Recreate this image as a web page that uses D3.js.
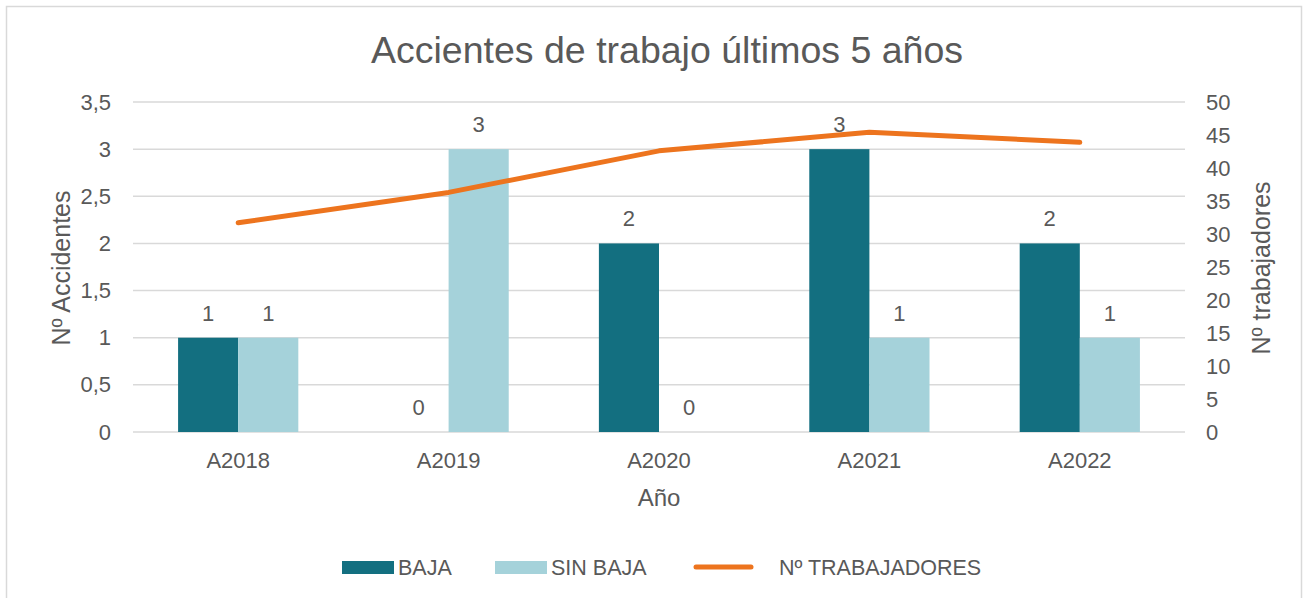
<!DOCTYPE html>
<html>
<head>
<meta charset="utf-8">
<script src="https://cdn.jsdelivr.net/npm/d3@7"></script>
<style>
  body { margin: 0; background: #fff; }
  svg text { font-family: "Liberation Sans", Arial, sans-serif; fill: #595959; }
</style>
</head>
<body>
<div id="chart"></div>
<script>
// chart values
const years = ["A2018", "A2019", "A2020", "A2021", "A2022"];
const baja = [1, 0, 2, 3, 2];
const sinBaja = [1, 3, 0, 1, 1];
const trabajadores = [31.7, 36.3, 42.6, 45.4, 43.9];
const leftTicks = [0, 0.5, 1, 1.5, 2, 2.5, 3, 3.5];
const rightTicks = [0, 5, 10, 15, 20, 25, 30, 35, 40, 45, 50];

const colors = { baja: "#136f80", sinBaja: "#a5d2da", line: "#ed741e", grid: "#d9d9d9" };

const width = 1305, height = 598;
const margin = { top: 102, right: 120, bottom: 166, left: 133 };

const svg = d3.select("#chart").append("svg")
    .attr("width", width)
    .attr("height", height);

// outer frame
svg.append("rect")
    .attr("x", 6.5).attr("y", 6.5)
    .attr("width", 1295).attr("height", 600)
    .attr("fill", "none")
    .attr("stroke", colors.grid)
    .attr("stroke-width", 1.5);

const x = d3.scaleBand()
    .domain(years)
    .range([margin.left, width - margin.right]);

const sub = d3.scaleBand()
    .domain(["baja", "sinBaja"])
    .range([0, x.bandwidth()])
    .paddingOuter(0.75)
    .paddingInner(0);

const yL = d3.scaleLinear().domain([0, 3.5]).range([height - margin.bottom, margin.top]);
const yR = d3.scaleLinear().domain([0, 50]).range([height - margin.bottom, margin.top]);

// gridlines
svg.append("g")
    .selectAll("line")
    .data(leftTicks)
    .join("line")
    .attr("x1", margin.left).attr("x2", width - margin.right)
    .attr("y1", d => yL(d)).attr("y2", d => yL(d))
    .attr("stroke", colors.grid)
    .attr("stroke-width", 1.5);

// left axis
const fmt = d => String(d).replace(".", ",");
const leftAxis = svg.append("g")
    .attr("transform", `translate(${margin.left},0)`)
    .call(d3.axisLeft(yL).tickValues(leftTicks).tickFormat(fmt).tickSize(0).tickPadding(22));
leftAxis.select(".domain").remove();
leftAxis.selectAll("text").style("font-size", "22px").attr("fill", "#595959");

// right axis
const rightAxis = svg.append("g")
    .attr("transform", `translate(${width - margin.right},0)`)
    .call(d3.axisRight(yR).tickValues(rightTicks).tickSize(0).tickPadding(21));
rightAxis.select(".domain").remove();
rightAxis.selectAll("text").style("font-size", "22px").attr("fill", "#595959");

// bottom axis
const bottomAxis = svg.append("g")
    .attr("transform", `translate(0,${height - margin.bottom})`)
    .call(d3.axisBottom(x).tickSize(0).tickPadding(20));
bottomAxis.select(".domain").remove();
bottomAxis.selectAll("text").style("font-size", "22px").attr("fill", "#595959");

// bars
const groups = svg.append("g")
    .selectAll("g")
    .data(years.map((yr, i) => ({ yr, vals: [{ k: "baja", v: baja[i] }, { k: "sinBaja", v: sinBaja[i] }] })))
    .join("g")
    .attr("transform", d => `translate(${x(d.yr)},0)`);

groups.selectAll("rect")
    .data(d => d.vals)
    .join("rect")
    .attr("x", d => sub(d.k))
    .attr("width", sub.bandwidth())
    .attr("y", d => yL(d.v))
    .attr("height", d => yL(0) - yL(d.v))
    .attr("fill", d => colors[d.k]);

groups.selectAll("text")
    .data(d => d.vals)
    .join("text")
    .attr("x", d => sub(d.k) + sub.bandwidth() / 2)
    .attr("y", d => yL(d.v) - 17)
    .attr("text-anchor", "middle")
    .style("font-size", "22px")
    .attr("fill", "#404040")
    .text(d => d.v);

// line
const line = d3.line()
    .x((d, i) => x(years[i]) + x.bandwidth() / 2)
    .y(d => yR(d));

svg.append("path")
    .datum(trabajadores)
    .attr("d", line)
    .attr("fill", "none")
    .attr("stroke", colors.line)
    .attr("stroke-width", 5)
    .attr("stroke-linecap", "round")
    .attr("stroke-linejoin", "round");

// titles
svg.append("text")
    .attr("x", 667).attr("y", 63)
    .attr("text-anchor", "middle")
    .style("font-size", "37.5px")
    .text("Accientes de trabajo últimos 5 años");

svg.append("text")
    .attr("transform", `translate(70,268) rotate(-90)`)
    .attr("text-anchor", "middle")
    .style("font-size", "25px")
    .text("Nº Accidentes");

svg.append("text")
    .attr("transform", `translate(1270,268) rotate(-90)`)
    .attr("text-anchor", "middle")
    .style("font-size", "25px")
    .text("Nº trabajadores");

svg.append("text")
    .attr("x", 659).attr("y", 506)
    .attr("text-anchor", "middle")
    .style("font-size", "24px")
    .text("Año");

// legend
const legend = svg.append("g").attr("transform", "translate(0,567)");
const items = [
    { label: "BAJA", type: "rect", color: colors.baja, x: 342 },
    { label: "SIN BAJA", type: "rect", color: colors.sinBaja, x: 495 },
    { label: "Nº TRABAJADORES", type: "line", color: colors.line, x: 694 }
];
items.forEach(it => {
    if (it.type === "rect") {
        legend.append("rect")
            .attr("x", it.x).attr("y", -6)
            .attr("width", 52).attr("height", 13)
            .attr("fill", it.color);
    } else {
        legend.append("line")
            .attr("x1", it.x + 2).attr("x2", it.x + 57)
            .attr("y1", 0).attr("y2", 0)
            .attr("stroke", it.color)
            .attr("stroke-width", 5)
            .attr("stroke-linecap", "round");
    }
    legend.append("text")
        .attr("x", it.x + (it.type === "rect" ? 56 : 85))
        .attr("y", 8)
        .style("font-size", "21.5px")
        .text(it.label);
});
</script>
</body>
</html>
